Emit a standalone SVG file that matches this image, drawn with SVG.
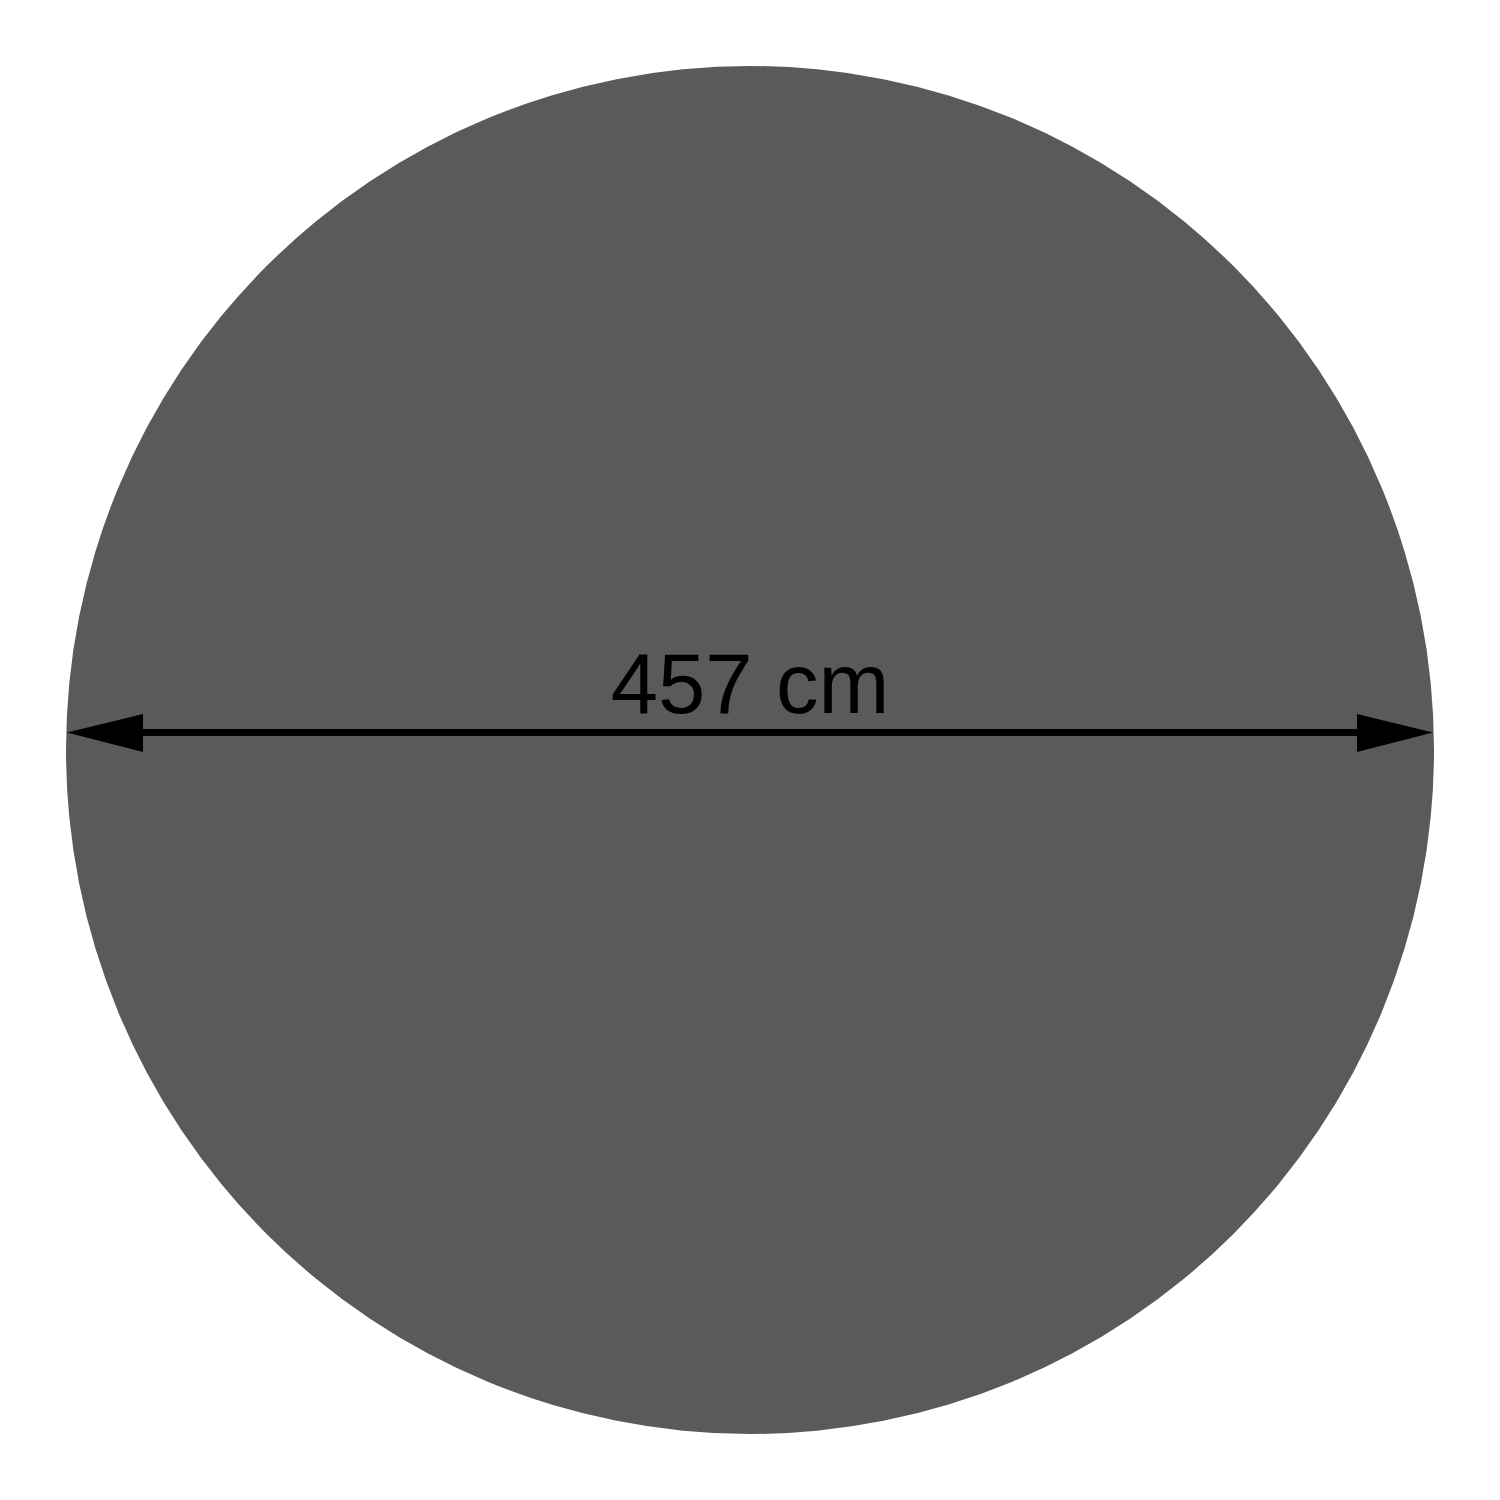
<svg xmlns="http://www.w3.org/2000/svg" width="1500" height="1500" viewBox="0 0 1500 1500">
<style>
.lbl{font-family:"Liberation Sans",Arial,sans-serif;font-size:85px;fill:#000}
</style>
<rect width="1500" height="1500" fill="#fff"/>
<g id="disc"><circle cx="750" cy="750" r="684" fill="#5a5a5a"/></g>
<g id="connectors">
<line x1="140" y1="732.5" x2="1360" y2="732.5" stroke="#000" stroke-width="7"/>
<polygon points="67,732.5 143,714 143,752" fill="#000"/>
<polygon points="1433,732.5 1357,714 1357,752" fill="#000"/>
</g>
<g id="label"><text class="lbl" x="750" y="713" text-anchor="middle">457 cm</text></g>
</svg>
